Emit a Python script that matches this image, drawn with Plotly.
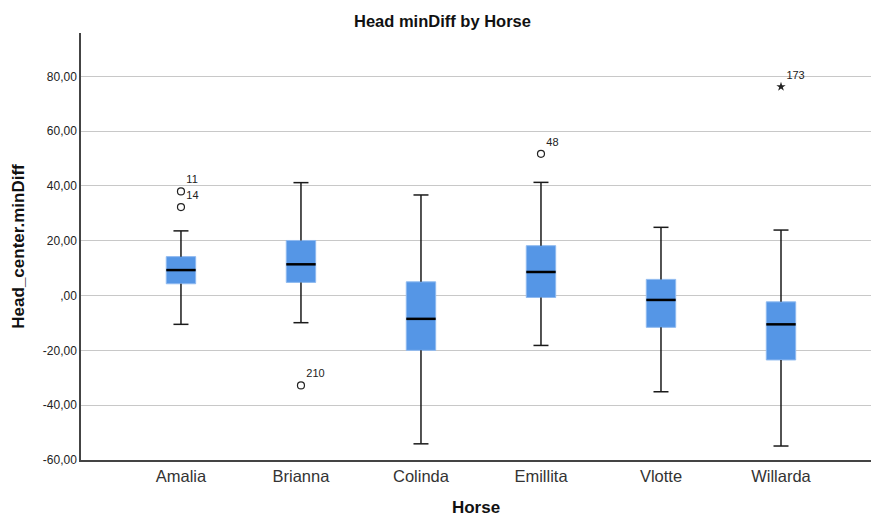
import plotly.graph_objects as go

horses = ["Amalia", "Brianna", "Colinda", "Emillita", "Vlotte", "Willarda"]
q1 = [4.3, 4.8, -20.0, -0.7, -11.6, -23.5]
median = [9.3, 11.4, -8.5, 8.6, -1.6, -10.5]
q3 = [14.2, 20.1, 5.0, 18.2, 5.9, -2.3]
lower_whisker = [-10.5, -9.9, -54.1, -18.2, -35.1, -54.9]
upper_whisker = [23.6, 41.2, 36.7, 41.3, 24.9, 23.9]

outlier_horse = ["Amalia", "Amalia", "Brianna", "Emillita"]
outlier_value = [38.0, 32.3, -32.8, 51.7]
outlier_label = ["11", "14", "210", "48"]

extreme_horse = ["Willarda"]
extreme_value = [76.2]
extreme_label = ["173"]

y_tickvals = [-60, -40, -20, 0, 20, 40, 60, 80]
y_ticktext = ["-60,00", "-40,00", "-20,00", ",00", "20,00", "40,00", "60,00", "80,00"]

BOX_W = 0.245
CAP_W = 0.125
idx = {h: i for i, h in enumerate(horses)}
xs = list(range(len(horses)))

fig = go.Figure()

# box bodies
fig.add_trace(go.Bar(
    x=xs, y=[b - a for a, b in zip(q1, q3)], base=q1, width=BOX_W,
    marker=dict(color="#5596e6", line=dict(color="#8fbaf0", width=1)),
    hoverinfo="skip", showlegend=False))

# whiskers and caps
wx, wy = [], []
for i in xs:
    wx += [i, i, None, i, i, None,
           i - CAP_W / 2, i + CAP_W / 2, None, i - CAP_W / 2, i + CAP_W / 2, None]
    wy += [lower_whisker[i], q1[i], None, q3[i], upper_whisker[i], None,
           lower_whisker[i], lower_whisker[i], None, upper_whisker[i], upper_whisker[i], None]
fig.add_trace(go.Scatter(x=wx, y=wy, mode="lines",
                         line=dict(color="#1a1a1a", width=1.5),
                         hoverinfo="skip", showlegend=False))

# medians
mx, my = [], []
for i in xs:
    mx += [i - BOX_W / 2, i + BOX_W / 2, None]
    my += [median[i], median[i], None]
fig.add_trace(go.Scatter(x=mx, y=my, mode="lines",
                         line=dict(color="#000000", width=2.5),
                         hoverinfo="skip", showlegend=False))

# outliers
fig.add_trace(go.Scatter(
    x=[idx[h] for h in outlier_horse], y=outlier_value, mode="markers+text",
    marker=dict(symbol="circle-open", size=7, color="#222222", line=dict(width=1.2)),
    text=outlier_label, textposition="top right",
    textfont=dict(family="Liberation Sans, Arial", size=11, color="#222222"),
    showlegend=False))

fig.add_trace(go.Scatter(
    x=[idx[h] for h in extreme_horse], y=extreme_value, mode="markers+text",
    marker=dict(symbol="star", size=7, color="#222222"),
    text=extreme_label, textposition="top right",
    textfont=dict(family="Liberation Sans, Arial", size=11, color="#222222"),
    showlegend=False))

fig.update_layout(
    width=871, height=517,
    margin=dict(l=81, r=0, t=33, b=57, autoexpand=False),
    paper_bgcolor="white", plot_bgcolor="white",
    font=dict(family="Liberation Sans, Arial", color="#222222"),
    title=dict(text="<b>Head minDiff by Horse</b>", x=0.508, xanchor="center",
               y=0.958, yanchor="middle",
               font=dict(size=16.5, color="#111111")),
    showlegend=False,
)

fig.update_xaxes(
    range=[-0.833, 5.75], tickvals=xs, ticktext=horses,
    showgrid=False, zeroline=False,
    showline=True, linecolor="#444444", linewidth=1.5,
    ticks="", tickfont=dict(size=16.5, color="#333333"),
    automargin=False,
    title=dict(text="<b>Horse</b>", font=dict(size=17, color="#111111"), standoff=26),
)
fig.update_yaxes(
    range=[-60, 95.8], tickvals=y_tickvals, ticktext=y_ticktext,
    showgrid=True, gridcolor="#c8c8c8", gridwidth=1.2,
    zeroline=False,
    showline=True, linecolor="#444444", linewidth=1.5,
    ticks="", tickfont=dict(size=12, color="#222222"),
    automargin=False,
    title=dict(text="<b>Head_center.minDiff</b>", font=dict(size=17, color="#111111"), standoff=14),
)

fig.write_html("out.html", config={"displayModeBar": False},
               post_script="document.body.style.margin='0';")
